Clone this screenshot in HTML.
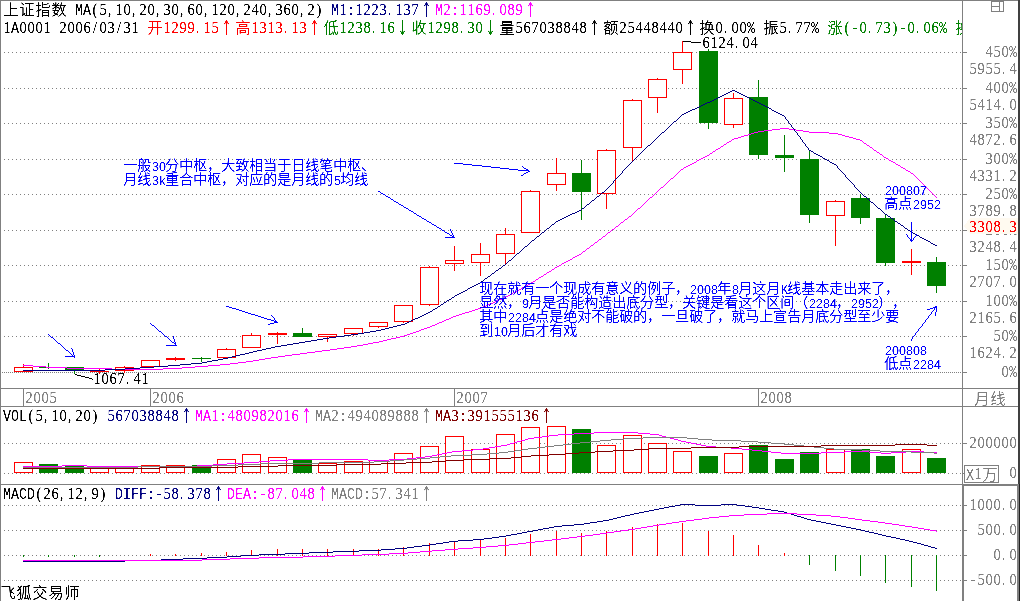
<!DOCTYPE html>
<html lang="zh-CN"><head><meta charset="utf-8"><title>上证指数 月线</title>
<style>
html,body{margin:0;padding:0;background:#fff;overflow:hidden}
svg{display:block}
text{font-family:"Liberation Mono","Noto Sans CJK SC",monospace;white-space:pre}
text.s{font-family:"Liberation Serif",serif}
text.n{font-family:"Liberation Sans",sans-serif}
text.h{font-family:"Liberation Mono",monospace}
text.c{font-family:"Liberation Sans","Noto Sans CJK SC",sans-serif;font-weight:300}
text.a{font-family:"Noto Sans CJK SC",sans-serif}
</style></head><body>
<svg width="1020" height="601" viewBox="0 0 1020 601" shape-rendering="crispEdges">
<rect width="1020" height="601" fill="#fff"/>
<defs><filter id="px" x="-10%" y="-20%" width="120%" height="140%" color-interpolation-filters="sRGB"><feComponentTransfer><feFuncA type="linear" slope="3" intercept="-0.85"/></feComponentTransfer></filter><filter id="pc" x="-10%" y="-20%" width="120%" height="140%" color-interpolation-filters="sRGB"><feComponentTransfer><feFuncA type="linear" slope="3" intercept="-0.4"/></feComponentTransfer></filter></defs>
<line x1="4" y1="52.5" x2="962" y2="52.5" stroke="#808080" stroke-width="1" stroke-dasharray="1 3"/>
<line x1="4" y1="88.5" x2="962" y2="88.5" stroke="#808080" stroke-width="1" stroke-dasharray="1 3"/>
<line x1="4" y1="123.5" x2="962" y2="123.5" stroke="#808080" stroke-width="1" stroke-dasharray="1 3"/>
<line x1="4" y1="159.5" x2="962" y2="159.5" stroke="#808080" stroke-width="1" stroke-dasharray="1 3"/>
<line x1="4" y1="194.5" x2="962" y2="194.5" stroke="#808080" stroke-width="1" stroke-dasharray="1 3"/>
<line x1="4" y1="230.5" x2="962" y2="230.5" stroke="#808080" stroke-width="1" stroke-dasharray="1 3"/>
<line x1="4" y1="265.5" x2="962" y2="265.5" stroke="#808080" stroke-width="1" stroke-dasharray="1 3"/>
<line x1="4" y1="301.5" x2="962" y2="301.5" stroke="#808080" stroke-width="1" stroke-dasharray="1 3"/>
<line x1="4" y1="336.5" x2="962" y2="336.5" stroke="#808080" stroke-width="1" stroke-dasharray="1 3"/>
<line x1="2" y1="372.5" x2="962" y2="372.5" stroke="#808080" stroke-width="1" stroke-dasharray="1 1"/>
<line x1="4" y1="443.5" x2="962" y2="443.5" stroke="#808080" stroke-width="1" stroke-dasharray="1 3"/>
<line x1="4" y1="473.5" x2="962" y2="473.5" stroke="#808080" stroke-width="1" stroke-dasharray="1 3"/>
<line x1="4" y1="505.5" x2="962" y2="505.5" stroke="#808080" stroke-width="1" stroke-dasharray="1 3"/>
<line x1="4" y1="530.5" x2="962" y2="530.5" stroke="#808080" stroke-width="1" stroke-dasharray="1 3"/>
<line x1="4" y1="555.5" x2="962" y2="555.5" stroke="#808080" stroke-width="1" stroke-dasharray="1 3"/>
<line x1="4" y1="580.5" x2="962" y2="580.5" stroke="#808080" stroke-width="1" stroke-dasharray="1 3"/>
<rect x="0" y="0" width="1020" height="1" fill="#808080"/>
<rect x="0" y="0" width="1" height="601" fill="#808080"/>
<rect x="962" y="0" width="1" height="601" fill="#808080"/>
<rect x="0" y="388" width="1020" height="1" fill="#808080"/>
<rect x="0" y="406" width="1020" height="1" fill="#808080"/>
<rect x="0" y="484" width="1020" height="1" fill="#808080"/>
<rect x="1018" y="0" width="2" height="484" fill="#404040"/>
<rect x="1019" y="484" width="1" height="117" fill="#202020"/>
<rect x="962" y="484" width="2" height="117" fill="#808080"/>
<rect x="962" y="484" width="57" height="2" fill="#808080"/>
<rect x="1017" y="484" width="2" height="117" fill="#808080"/>
<rect x="963" y="52" width="4" height="1" fill="#808080"/>
<rect x="963" y="88" width="4" height="1" fill="#808080"/>
<rect x="963" y="123" width="4" height="1" fill="#808080"/>
<rect x="963" y="159" width="4" height="1" fill="#808080"/>
<rect x="963" y="194" width="4" height="1" fill="#808080"/>
<rect x="963" y="230" width="4" height="1" fill="#808080"/>
<rect x="963" y="265" width="4" height="1" fill="#808080"/>
<rect x="963" y="301" width="4" height="1" fill="#808080"/>
<rect x="963" y="336" width="4" height="1" fill="#808080"/>
<rect x="963" y="372" width="4" height="1" fill="#808080"/>
<rect x="963" y="443" width="4" height="1" fill="#808080"/>
<rect x="963" y="473" width="4" height="1" fill="#808080"/>
<rect x="963" y="505" width="4" height="1" fill="#808080"/>
<rect x="963" y="530" width="4" height="1" fill="#808080"/>
<rect x="963" y="555" width="4" height="1" fill="#808080"/>
<rect x="963" y="580" width="4" height="1" fill="#808080"/>
<rect x="23" y="388" width="1" height="19" fill="#808080"/>
<rect x="150" y="388" width="1" height="19" fill="#808080"/>
<rect x="454" y="388" width="1" height="19" fill="#808080"/>
<rect x="758" y="388" width="1" height="19" fill="#808080"/>
<g id="candles">
<rect x="23" y="364" width="1" height="8" fill="#ff0000"/>
<rect x="14.5" y="367.5" width="18" height="4" fill="#fff" stroke="#ff0000" stroke-width="1"/>
<rect x="48" y="363" width="1" height="6" fill="#008000"/>
<rect x="39" y="367" width="19" height="1" fill="#008000"/>
<rect x="74" y="367" width="1" height="7" fill="#008000"/>
<rect x="65" y="367" width="19" height="4" fill="#008000"/>
<rect x="99" y="369" width="1" height="5" fill="#ff0000"/>
<rect x="90" y="371" width="19" height="1" fill="#ff0000"/>
<rect x="124" y="366" width="1" height="7" fill="#ff0000"/>
<rect x="115.5" y="367.5" width="18" height="3" fill="#fff" stroke="#ff0000" stroke-width="1"/>
<rect x="150" y="360" width="1" height="7" fill="#ff0000"/>
<rect x="141.5" y="360.5" width="18" height="6" fill="#fff" stroke="#ff0000" stroke-width="1"/>
<rect x="175" y="357" width="1" height="4" fill="#ff0000"/>
<rect x="166" y="358" width="19" height="2" fill="#ff0000"/>
<rect x="201" y="357" width="1" height="5" fill="#008000"/>
<rect x="192" y="358" width="19" height="1" fill="#008000"/>
<rect x="226" y="348" width="1" height="10" fill="#ff0000"/>
<rect x="217.5" y="349.5" width="18" height="8" fill="#fff" stroke="#ff0000" stroke-width="1"/>
<rect x="251" y="333" width="1" height="15" fill="#ff0000"/>
<rect x="242.5" y="335.5" width="18" height="12" fill="#fff" stroke="#ff0000" stroke-width="1"/>
<rect x="277" y="332" width="1" height="12" fill="#ff0000"/>
<rect x="268" y="333" width="19" height="2" fill="#ff0000"/>
<rect x="302" y="328" width="1" height="9" fill="#008000"/>
<rect x="293" y="333" width="19" height="4" fill="#008000"/>
<rect x="327" y="334" width="1" height="8" fill="#ff0000"/>
<rect x="318.5" y="334.5" width="18" height="2" fill="#fff" stroke="#ff0000" stroke-width="1"/>
<rect x="353" y="328" width="1" height="8" fill="#ff0000"/>
<rect x="344.5" y="328.5" width="18" height="5" fill="#fff" stroke="#ff0000" stroke-width="1"/>
<rect x="378" y="322" width="1" height="6" fill="#ff0000"/>
<rect x="369.5" y="322.5" width="18" height="4" fill="#fff" stroke="#ff0000" stroke-width="1"/>
<rect x="403" y="305" width="1" height="18" fill="#ff0000"/>
<rect x="394.5" y="305.5" width="18" height="16" fill="#fff" stroke="#ff0000" stroke-width="1"/>
<rect x="429" y="266" width="1" height="40" fill="#ff0000"/>
<rect x="420.5" y="267.5" width="18" height="37" fill="#fff" stroke="#ff0000" stroke-width="1"/>
<rect x="454" y="246" width="1" height="25" fill="#ff0000"/>
<rect x="445.5" y="260.5" width="18" height="3" fill="#fff" stroke="#ff0000" stroke-width="1"/>
<rect x="480" y="243" width="1" height="33" fill="#ff0000"/>
<rect x="471.5" y="254.5" width="18" height="8" fill="#fff" stroke="#ff0000" stroke-width="1"/>
<rect x="505" y="228" width="1" height="37" fill="#ff0000"/>
<rect x="496.5" y="234.5" width="18" height="19" fill="#fff" stroke="#ff0000" stroke-width="1"/>
<rect x="530" y="190" width="1" height="43" fill="#ff0000"/>
<rect x="521.5" y="191.5" width="18" height="41" fill="#fff" stroke="#ff0000" stroke-width="1"/>
<rect x="556" y="158" width="1" height="33" fill="#ff0000"/>
<rect x="547.5" y="173.5" width="18" height="11" fill="#fff" stroke="#ff0000" stroke-width="1"/>
<rect x="581" y="160" width="1" height="60" fill="#008000"/>
<rect x="572" y="173" width="19" height="19" fill="#008000"/>
<rect x="606" y="149" width="1" height="60" fill="#ff0000"/>
<rect x="597.5" y="150.5" width="18" height="43" fill="#fff" stroke="#ff0000" stroke-width="1"/>
<rect x="632" y="99" width="1" height="62" fill="#ff0000"/>
<rect x="623.5" y="100.5" width="18" height="47" fill="#fff" stroke="#ff0000" stroke-width="1"/>
<rect x="657" y="78" width="1" height="35" fill="#ff0000"/>
<rect x="648.5" y="79.5" width="18" height="18" fill="#fff" stroke="#ff0000" stroke-width="1"/>
<rect x="682" y="41" width="1" height="43" fill="#ff0000"/>
<rect x="673.5" y="52.5" width="18" height="17" fill="#fff" stroke="#ff0000" stroke-width="1"/>
<rect x="708" y="49" width="1" height="80" fill="#008000"/>
<rect x="699" y="51" width="19" height="72" fill="#008000"/>
<rect x="733" y="93" width="1" height="35" fill="#ff0000"/>
<rect x="724.5" y="98.5" width="18" height="26" fill="#fff" stroke="#ff0000" stroke-width="1"/>
<rect x="758" y="80" width="1" height="79" fill="#008000"/>
<rect x="749" y="97" width="19" height="58" fill="#008000"/>
<rect x="784" y="135" width="1" height="37" fill="#008000"/>
<rect x="775" y="155" width="19" height="3" fill="#008000"/>
<rect x="809" y="150" width="1" height="73" fill="#008000"/>
<rect x="800" y="159" width="19" height="56" fill="#008000"/>
<rect x="835" y="200" width="1" height="46" fill="#ff0000"/>
<rect x="826.5" y="201.5" width="18" height="14" fill="#fff" stroke="#ff0000" stroke-width="1"/>
<rect x="860" y="194" width="1" height="30" fill="#008000"/>
<rect x="851" y="198" width="19" height="20" fill="#008000"/>
<rect x="885" y="214" width="1" height="52" fill="#008000"/>
<rect x="876" y="218" width="19" height="45" fill="#008000"/>
<rect x="911" y="249" width="1" height="26" fill="#ff0000"/>
<rect x="902" y="261" width="19" height="2" fill="#ff0000"/>
<rect x="936" y="257" width="1" height="36" fill="#008000"/>
<rect x="927" y="262" width="19" height="24" fill="#008000"/>
</g>
<g id="ma">
<path d="M780 128h9v1h-9zM772 129h8v1h-8zM789 129h7v1h-7zM764 130h8v1h-8zM796 130h7v1h-7zM758 131h6v1h-6zM803 131h6v1h-6zM754 132h4v1h-4zM809 132h20v1h-20zM751 133h3v1h-3zM829 133h9v1h-9zM748 134h3v1h-3zM838 134h4v1h-4zM744 135h4v1h-4zM842 135h3v1h-3zM741 136h3v1h-3zM845 136h4v1h-4zM738 137h3v1h-3zM849 137h4v1h-4zM734 138h4v1h-4zM853 138h3v1h-3zM732 139h2v1h-2zM856 139h4v1h-4zM731 140h1v1h-1zM860 140h2v1h-2zM729 141h2v1h-2zM862 141h1v1h-1zM727 142h2v1h-2zM863 142h1v1h-1zM726 143h1v1h-1zM864 143h2v1h-2zM724 144h2v1h-2zM866 144h1v1h-1zM723 145h1v1h-1zM867 145h2v1h-2zM721 146h2v1h-2zM869 146h1v1h-1zM720 147h1v1h-1zM870 147h2v1h-2zM718 148h2v1h-2zM872 148h1v1h-1zM716 149h2v1h-2zM873 149h1v1h-1zM715 150h1v1h-1zM874 150h2v1h-2zM713 151h2v1h-2zM876 151h1v1h-1zM712 152h1v1h-1zM877 152h2v1h-2zM710 153h2v1h-2zM879 153h1v1h-1zM709 154h1v1h-1zM880 154h2v1h-2zM707 155h2v1h-2zM882 155h1v1h-1zM705 156h2v1h-2zM883 156h1v1h-1zM703 157h2v1h-2zM884 157h2v1h-2zM701 158h2v1h-2zM886 158h2v1h-2zM699 159h2v1h-2zM888 159h1v1h-1zM697 160h2v1h-2zM889 160h2v1h-2zM696 161h1v1h-1zM891 161h2v1h-2zM694 162h2v1h-2zM893 162h2v1h-2zM692 163h2v1h-2zM895 163h1v1h-1zM690 164h2v1h-2zM896 164h2v1h-2zM688 165h2v1h-2zM898 165h2v1h-2zM686 166h2v1h-2zM900 166h1v1h-1zM684 167h2v1h-2zM901 167h2v1h-2zM683 168h1v1h-1zM903 168h2v1h-2zM681 169h2v1h-2zM905 169h1v1h-1zM680 170h1v1h-1zM906 170h2v1h-2zM679 171h1v1h-1zM908 171h2v1h-2zM678 172h1v1h-1zM910 172h1v1h-1zM677 173h1v1h-1zM911 173h2v1h-2zM676 174h1v1h-1zM913 174h1v1h-1zM675 175h1v1h-1zM914 175h1v1h-1zM674 176h1v1h-1zM915 176h1v1h-1zM673 177h1v1h-1zM916 177h1v1h-1zM671 178h2v1h-2zM917 178h1v1h-1zM670 179h1v1h-1zM918 179h1v1h-1zM669 180h1v1h-1zM919 180h1v1h-1zM668 181h1v1h-1zM920 181h1v1h-1zM667 182h1v1h-1zM921 182h1v1h-1zM666 183h1v1h-1zM922 183h1v1h-1zM665 184h1v1h-1zM923 184h1v1h-1zM664 185h1v1h-1zM924 185h1v1h-1zM663 186h1v1h-1zM925 186h1v1h-1zM661 187h2v1h-2zM926 187h1v1h-1zM660 188h1v1h-1zM927 188h1v1h-1zM659 189h1v1h-1zM928 189h1v1h-1zM658 190h1v1h-1zM929 190h1v1h-1zM657 191h1v1h-1zM930 191h1v1h-1zM656 192h1v1h-1zM931 192h1v1h-1zM655 193h1v1h-1zM932 193h1v1h-1zM654 194h1v1h-1zM933 194h1v1h-1zM653 195h1v1h-1zM934 195h1v1h-1zM652 196h1v1h-1zM935 196h1v1h-1zM650 197h2v1h-2zM936 197h1v1h-1zM649 198h1v1h-1zM648 199h1v1h-1zM647 200h1v1h-1zM646 201h1v1h-1zM645 202h1v1h-1zM644 203h1v1h-1zM643 204h1v1h-1zM642 205h1v1h-1zM641 206h1v1h-1zM640 207h1v1h-1zM638 208h2v1h-2zM637 209h1v1h-1zM636 210h1v1h-1zM635 211h1v1h-1zM634 212h1v1h-1zM633 213h1v1h-1zM632 214h1v1h-1zM631 215h1v1h-1zM629 216h2v1h-2zM628 217h1v1h-1zM627 218h1v1h-1zM625 219h2v1h-2zM624 220h1v1h-1zM623 221h1v1h-1zM621 222h2v1h-2zM620 223h1v1h-1zM619 224h1v1h-1zM618 225h1v1h-1zM616 226h2v1h-2zM615 227h1v1h-1zM614 228h1v1h-1zM612 229h2v1h-2zM611 230h1v1h-1zM610 231h1v1h-1zM608 232h2v1h-2zM607 233h1v1h-1zM606 234h1v1h-1zM605 235h1v1h-1zM603 236h2v1h-2zM602 237h1v1h-1zM601 238h1v1h-1zM599 239h2v1h-2zM598 240h1v1h-1zM597 241h1v1h-1zM595 242h2v1h-2zM594 243h1v1h-1zM593 244h1v1h-1zM591 245h2v1h-2zM590 246h1v1h-1zM589 247h1v1h-1zM587 248h2v1h-2zM586 249h1v1h-1zM585 250h1v1h-1zM583 251h2v1h-2zM582 252h1v1h-1zM581 253h1v1h-1zM579 254h2v1h-2zM577 255h2v1h-2zM575 256h2v1h-2zM573 257h2v1h-2zM572 258h1v1h-1zM570 259h2v1h-2zM568 260h2v1h-2zM566 261h2v1h-2zM564 262h2v1h-2zM562 263h2v1h-2zM561 264h1v1h-1zM559 265h2v1h-2zM557 266h2v1h-2zM555 267h2v1h-2zM554 268h1v1h-1zM552 269h2v1h-2zM551 270h1v1h-1zM549 271h2v1h-2zM547 272h2v1h-2zM546 273h1v1h-1zM544 274h2v1h-2zM543 275h1v1h-1zM541 276h2v1h-2zM539 277h2v1h-2zM538 278h1v1h-1zM536 279h2v1h-2zM535 280h1v1h-1zM533 281h2v1h-2zM531 282h2v1h-2zM530 283h1v1h-1zM528 284h2v1h-2zM526 285h2v1h-2zM524 286h2v1h-2zM522 287h2v1h-2zM521 288h1v1h-1zM519 289h2v1h-2zM517 290h2v1h-2zM515 291h2v1h-2zM513 292h2v1h-2zM512 293h1v1h-1zM510 294h2v1h-2zM508 295h2v1h-2zM506 296h2v1h-2zM504 297h2v1h-2zM502 298h2v1h-2zM499 299h3v1h-3zM497 300h2v1h-2zM495 301h2v1h-2zM493 302h2v1h-2zM490 303h3v1h-3zM488 304h2v1h-2zM486 305h2v1h-2zM483 306h3v1h-3zM481 307h2v1h-2zM478 308h3v1h-3zM475 309h3v1h-3zM472 310h3v1h-3zM469 311h3v1h-3zM465 312h4v1h-4zM462 313h3v1h-3zM459 314h3v1h-3zM456 315h3v1h-3zM453 316h3v1h-3zM451 317h2v1h-2zM449 318h2v1h-2zM446 319h3v1h-3zM444 320h2v1h-2zM442 321h2v1h-2zM439 322h3v1h-3zM437 323h2v1h-2zM435 324h2v1h-2zM432 325h3v1h-3zM430 326h2v1h-2zM427 327h3v1h-3zM424 328h3v1h-3zM421 329h3v1h-3zM419 330h2v1h-2zM416 331h3v1h-3zM413 332h3v1h-3zM410 333h3v1h-3zM407 334h3v1h-3zM404 335h3v1h-3zM400 336h4v1h-4zM396 337h4v1h-4zM391 338h5v1h-5zM387 339h4v1h-4zM383 340h4v1h-4zM379 341h4v1h-4zM373 342h6v1h-6zM368 343h5v1h-5zM363 344h5v1h-5zM357 345h6v1h-6zM351 346h6v1h-6zM344 347h7v1h-7zM337 348h7v1h-7zM330 349h7v1h-7zM322 350h8v1h-8zM315 351h7v1h-7zM307 352h8v1h-8zM300 353h7v1h-7zM292 354h8v1h-8zM285 355h7v1h-7zM278 356h7v1h-7zM271 357h7v1h-7zM265 358h6v1h-6zM259 359h6v1h-6zM253 360h6v1h-6zM246 361h7v1h-7zM238 362h8v1h-8zM230 363h8v1h-8zM220 364h10v1h-10zM23 365h10v1h-10zM208 365h12v1h-12zM33 366h13v1h-13zM195 366h13v1h-13zM46 367h21v1h-21zM182 367h13v1h-13zM67 368h45v1h-45zM163 368h19v1h-19zM112 369h51v1h-51z" fill="#ff00ff"/>
<path d="M732 90h3v1h-3zM730 91h2v1h-2zM735 91h2v1h-2zM728 92h2v1h-2zM737 92h2v1h-2zM726 93h2v1h-2zM739 93h2v1h-2zM724 94h2v1h-2zM741 94h2v1h-2zM722 95h2v1h-2zM743 95h2v1h-2zM720 96h2v1h-2zM745 96h2v1h-2zM718 97h2v1h-2zM747 97h2v1h-2zM716 98h2v1h-2zM749 98h2v1h-2zM714 99h2v1h-2zM751 99h2v1h-2zM712 100h2v1h-2zM753 100h2v1h-2zM710 101h2v1h-2zM755 101h2v1h-2zM707 102h3v1h-3zM757 102h2v1h-2zM705 103h2v1h-2zM759 103h2v1h-2zM703 104h2v1h-2zM761 104h2v1h-2zM701 105h2v1h-2zM763 105h2v1h-2zM699 106h2v1h-2zM765 106h2v1h-2zM697 107h2v1h-2zM767 107h2v1h-2zM695 108h2v1h-2zM769 108h2v1h-2zM692 109h3v1h-3zM771 109h1v1h-1zM690 110h2v1h-2zM772 110h2v1h-2zM688 111h2v1h-2zM774 111h2v1h-2zM686 112h2v1h-2zM776 112h2v1h-2zM684 113h2v1h-2zM778 113h2v1h-2zM682 114h2v1h-2zM780 114h2v1h-2zM681 115h1v1h-1zM782 115h2v1h-2zM680 116h1v1h-1zM784 116h1v1h-1zM679 117h1v1h-1zM785 117h1v1h-1zM678 118h1v1h-1zM785 118h1v1h-1zM677 119h1v1h-1zM786 119h1v1h-1zM676 120h1v1h-1zM787 120h1v1h-1zM674 121h2v1h-2zM788 121h1v1h-1zM673 122h1v1h-1zM788 122h1v1h-1zM672 123h1v1h-1zM789 123h1v1h-1zM671 124h1v1h-1zM790 124h1v1h-1zM670 125h1v1h-1zM791 125h1v1h-1zM669 126h1v1h-1zM791 126h1v1h-1zM668 127h1v1h-1zM792 127h1v1h-1zM667 128h1v1h-1zM793 128h1v1h-1zM666 129h1v1h-1zM794 129h1v1h-1zM665 130h1v1h-1zM794 130h1v1h-1zM664 131h1v1h-1zM795 131h1v1h-1zM662 132h2v1h-2zM796 132h1v1h-1zM661 133h1v1h-1zM797 133h1v1h-1zM660 134h1v1h-1zM797 134h1v1h-1zM659 135h1v1h-1zM798 135h1v1h-1zM658 136h1v1h-1zM799 136h1v1h-1zM657 137h1v1h-1zM800 137h1v1h-1zM656 138h1v1h-1zM800 138h1v1h-1zM655 139h1v1h-1zM801 139h1v1h-1zM654 140h1v1h-1zM802 140h1v1h-1zM653 141h1v1h-1zM802 141h1v1h-1zM652 142h1v1h-1zM803 142h1v1h-1zM651 143h1v1h-1zM804 143h1v1h-1zM650 144h1v1h-1zM805 144h1v1h-1zM648 145h2v1h-2zM805 145h1v1h-1zM647 146h1v1h-1zM806 146h1v1h-1zM646 147h1v1h-1zM807 147h1v1h-1zM645 148h1v1h-1zM808 148h1v1h-1zM644 149h1v1h-1zM808 149h1v1h-1zM643 150h1v1h-1zM809 150h2v1h-2zM642 151h1v1h-1zM811 151h2v1h-2zM641 152h1v1h-1zM813 152h1v1h-1zM640 153h1v1h-1zM814 153h2v1h-2zM639 154h1v1h-1zM816 154h2v1h-2zM638 155h1v1h-1zM818 155h2v1h-2zM637 156h1v1h-1zM820 156h2v1h-2zM636 157h1v1h-1zM822 157h1v1h-1zM635 158h1v1h-1zM823 158h2v1h-2zM634 159h1v1h-1zM825 159h2v1h-2zM633 160h1v1h-1zM827 160h2v1h-2zM632 161h1v1h-1zM829 161h1v1h-1zM631 162h1v1h-1zM830 162h2v1h-2zM630 163h1v1h-1zM832 163h2v1h-2zM629 164h1v1h-1zM834 164h2v1h-2zM628 165h1v1h-1zM836 165h1v1h-1zM627 166h1v1h-1zM837 166h1v1h-1zM626 167h1v1h-1zM837 167h1v1h-1zM625 168h1v1h-1zM838 168h1v1h-1zM624 169h1v1h-1zM839 169h1v1h-1zM623 170h1v1h-1zM840 170h1v1h-1zM622 171h1v1h-1zM841 171h1v1h-1zM622 172h1v1h-1zM842 172h1v1h-1zM621 173h1v1h-1zM843 173h1v1h-1zM620 174h1v1h-1zM844 174h1v1h-1zM619 175h1v1h-1zM845 175h1v1h-1zM618 176h1v1h-1zM845 176h1v1h-1zM617 177h1v1h-1zM846 177h1v1h-1zM616 178h1v1h-1zM847 178h1v1h-1zM615 179h1v1h-1zM848 179h1v1h-1zM614 180h1v1h-1zM849 180h1v1h-1zM613 181h1v1h-1zM850 181h1v1h-1zM613 182h1v1h-1zM851 182h1v1h-1zM612 183h1v1h-1zM852 183h1v1h-1zM611 184h1v1h-1zM853 184h1v1h-1zM610 185h1v1h-1zM854 185h1v1h-1zM609 186h1v1h-1zM854 186h1v1h-1zM608 187h1v1h-1zM855 187h1v1h-1zM607 188h1v1h-1zM856 188h1v1h-1zM606 189h1v1h-1zM857 189h1v1h-1zM605 190h1v1h-1zM858 190h1v1h-1zM604 191h1v1h-1zM859 191h1v1h-1zM602 192h2v1h-2zM860 192h1v1h-1zM601 193h1v1h-1zM861 193h1v1h-1zM600 194h1v1h-1zM862 194h1v1h-1zM599 195h1v1h-1zM863 195h1v1h-1zM597 196h2v1h-2zM864 196h2v1h-2zM596 197h1v1h-1zM866 197h1v1h-1zM595 198h1v1h-1zM867 198h1v1h-1zM594 199h1v1h-1zM868 199h1v1h-1zM592 200h2v1h-2zM869 200h1v1h-1zM591 201h1v1h-1zM870 201h1v1h-1zM590 202h1v1h-1zM871 202h2v1h-2zM589 203h1v1h-1zM873 203h1v1h-1zM587 204h2v1h-2zM874 204h1v1h-1zM586 205h1v1h-1zM875 205h1v1h-1zM585 206h1v1h-1zM876 206h1v1h-1zM584 207h1v1h-1zM877 207h1v1h-1zM582 208h2v1h-2zM878 208h2v1h-2zM581 209h1v1h-1zM880 209h1v1h-1zM579 210h2v1h-2zM881 210h1v1h-1zM577 211h2v1h-2zM882 211h1v1h-1zM575 212h2v1h-2zM883 212h1v1h-1zM572 213h3v1h-3zM884 213h1v1h-1zM570 214h2v1h-2zM885 214h2v1h-2zM568 215h2v1h-2zM887 215h1v1h-1zM566 216h2v1h-2zM888 216h2v1h-2zM564 217h2v1h-2zM890 217h1v1h-1zM562 218h2v1h-2zM891 218h2v1h-2zM560 219h2v1h-2zM893 219h1v1h-1zM558 220h2v1h-2zM894 220h1v1h-1zM556 221h2v1h-2zM895 221h2v1h-2zM555 222h1v1h-1zM897 222h1v1h-1zM554 223h1v1h-1zM898 223h2v1h-2zM552 224h2v1h-2zM900 224h1v1h-1zM551 225h1v1h-1zM901 225h2v1h-2zM550 226h1v1h-1zM903 226h1v1h-1zM549 227h1v1h-1zM904 227h1v1h-1zM547 228h2v1h-2zM905 228h2v1h-2zM546 229h1v1h-1zM907 229h1v1h-1zM545 230h1v1h-1zM908 230h2v1h-2zM544 231h1v1h-1zM910 231h1v1h-1zM542 232h2v1h-2zM911 232h2v1h-2zM541 233h1v1h-1zM913 233h2v1h-2zM540 234h1v1h-1zM915 234h2v1h-2zM539 235h1v1h-1zM917 235h2v1h-2zM537 236h2v1h-2zM919 236h1v1h-1zM536 237h1v1h-1zM920 237h2v1h-2zM535 238h1v1h-1zM922 238h2v1h-2zM534 239h1v1h-1zM924 239h2v1h-2zM532 240h2v1h-2zM926 240h2v1h-2zM531 241h1v1h-1zM928 241h2v1h-2zM530 242h1v1h-1zM930 242h1v1h-1zM529 243h1v1h-1zM931 243h2v1h-2zM528 244h1v1h-1zM933 244h2v1h-2zM527 245h1v1h-1zM935 245h2v1h-2zM525 246h2v1h-2zM524 247h1v1h-1zM523 248h1v1h-1zM522 249h1v1h-1zM521 250h1v1h-1zM520 251h1v1h-1zM519 252h1v1h-1zM517 253h2v1h-2zM516 254h1v1h-1zM515 255h1v1h-1zM514 256h1v1h-1zM513 257h1v1h-1zM512 258h1v1h-1zM511 259h1v1h-1zM509 260h2v1h-2zM508 261h1v1h-1zM507 262h1v1h-1zM506 263h1v1h-1zM505 264h1v1h-1zM503 265h2v1h-2zM502 266h1v1h-1zM501 267h1v1h-1zM499 268h2v1h-2zM498 269h1v1h-1zM496 270h2v1h-2zM495 271h1v1h-1zM494 272h1v1h-1zM492 273h2v1h-2zM491 274h1v1h-1zM490 275h1v1h-1zM488 276h2v1h-2zM487 277h1v1h-1zM485 278h2v1h-2zM484 279h1v1h-1zM483 280h1v1h-1zM481 281h2v1h-2zM480 282h1v1h-1zM478 283h2v1h-2zM476 284h2v1h-2zM474 285h2v1h-2zM472 286h2v1h-2zM470 287h2v1h-2zM468 288h2v1h-2zM467 289h1v1h-1zM465 290h2v1h-2zM463 291h2v1h-2zM461 292h2v1h-2zM459 293h2v1h-2zM457 294h2v1h-2zM455 295h2v1h-2zM454 296h1v1h-1zM452 297h2v1h-2zM451 298h1v1h-1zM449 299h2v1h-2zM447 300h2v1h-2zM446 301h1v1h-1zM444 302h2v1h-2zM443 303h1v1h-1zM441 304h2v1h-2zM440 305h1v1h-1zM438 306h2v1h-2zM437 307h1v1h-1zM435 308h2v1h-2zM433 309h2v1h-2zM432 310h1v1h-1zM430 311h2v1h-2zM428 312h2v1h-2zM426 313h2v1h-2zM424 314h2v1h-2zM422 315h2v1h-2zM420 316h2v1h-2zM418 317h2v1h-2zM415 318h3v1h-3zM413 319h2v1h-2zM411 320h2v1h-2zM409 321h2v1h-2zM407 322h2v1h-2zM405 323h2v1h-2zM401 324h4v1h-4zM397 325h4v1h-4zM393 326h4v1h-4zM389 327h4v1h-4zM385 328h4v1h-4zM381 329h4v1h-4zM376 330h5v1h-5zM370 331h6v1h-6zM364 332h6v1h-6zM358 333h6v1h-6zM351 334h7v1h-7zM344 335h7v1h-7zM336 336h8v1h-8zM329 337h7v1h-7zM323 338h6v1h-6zM317 339h6v1h-6zM311 340h6v1h-6zM305 341h6v1h-6zM299 342h6v1h-6zM293 343h6v1h-6zM287 344h6v1h-6zM281 345h6v1h-6zM275 346h6v1h-6zM271 347h4v1h-4zM266 348h5v1h-5zM262 349h4v1h-4zM257 350h5v1h-5zM253 351h4v1h-4zM249 352h4v1h-4zM245 353h4v1h-4zM240 354h5v1h-5zM236 355h4v1h-4zM232 356h4v1h-4zM228 357h4v1h-4zM223 358h5v1h-5zM218 359h5v1h-5zM212 360h6v1h-6zM207 361h5v1h-5zM202 362h5v1h-5zM191 363h11v1h-11zM180 364h11v1h-11zM168 365h12v1h-12zM154 366h14v1h-14zM140 367h14v1h-14zM125 368h15v1h-15zM105 369h20v1h-20zM23 370h82v1h-82z" fill="#000080"/>
</g>
<path d="M683 41h8v1h-8zM691 42h10v1h-10z" fill="#000000"/>
<g class="t"><text transform="scale(0.9,1)" x="784.44 793.33 802.22 811.11 818.33 828.89 837.78" y="48" fill="#000000" font-size="16" text-anchor="middle" class="s" filter="url(#px)">6124.04</text></g>
<path d="M75 374h2v1h-2zM77 375h4v1h-4zM81 376h4v1h-4zM85 377h4v1h-4zM89 378h3v1h-3zM92 379h1v1h-1z" fill="#000000"/>
<g class="t"><text transform="scale(0.9,1)" x="107.78 116.67 125.56 134.44 141.67 152.22 161.11" y="384" fill="#000000" font-size="16" text-anchor="middle" class="s" filter="url(#px)">1067.41</text></g>
<g id="vol">
<rect x="14.5" y="462.5" width="18" height="10" fill="#fff" stroke="#ff0000" stroke-width="1"/>
<rect x="39" y="464" width="19" height="9" fill="#008000"/>
<rect x="65" y="466" width="19" height="7" fill="#008000"/>
<rect x="90.5" y="466.5" width="18" height="6" fill="#fff" stroke="#ff0000" stroke-width="1"/>
<rect x="115.5" y="466.5" width="18" height="6" fill="#fff" stroke="#ff0000" stroke-width="1"/>
<rect x="141.5" y="465.5" width="18" height="7" fill="#fff" stroke="#ff0000" stroke-width="1"/>
<rect x="166.5" y="465.5" width="18" height="7" fill="#fff" stroke="#ff0000" stroke-width="1"/>
<rect x="192" y="465" width="19" height="8" fill="#008000"/>
<rect x="217.5" y="459.5" width="18" height="13" fill="#fff" stroke="#ff0000" stroke-width="1"/>
<rect x="242.5" y="454.5" width="18" height="18" fill="#fff" stroke="#ff0000" stroke-width="1"/>
<rect x="268.5" y="457.5" width="18" height="15" fill="#fff" stroke="#ff0000" stroke-width="1"/>
<rect x="293" y="459" width="19" height="14" fill="#008000"/>
<rect x="318.5" y="463.5" width="18" height="9" fill="#fff" stroke="#ff0000" stroke-width="1"/>
<rect x="344.5" y="461.5" width="18" height="11" fill="#fff" stroke="#ff0000" stroke-width="1"/>
<rect x="369.5" y="460.5" width="18" height="12" fill="#fff" stroke="#ff0000" stroke-width="1"/>
<rect x="394.5" y="453.5" width="18" height="19" fill="#fff" stroke="#ff0000" stroke-width="1"/>
<rect x="420.5" y="446.5" width="18" height="26" fill="#fff" stroke="#ff0000" stroke-width="1"/>
<rect x="445.5" y="436.5" width="18" height="36" fill="#fff" stroke="#ff0000" stroke-width="1"/>
<rect x="471.5" y="449.5" width="18" height="23" fill="#fff" stroke="#ff0000" stroke-width="1"/>
<rect x="496.5" y="434.5" width="18" height="38" fill="#fff" stroke="#ff0000" stroke-width="1"/>
<rect x="521.5" y="427.5" width="18" height="45" fill="#fff" stroke="#ff0000" stroke-width="1"/>
<rect x="547.5" y="426.5" width="18" height="46" fill="#fff" stroke="#ff0000" stroke-width="1"/>
<rect x="572" y="429" width="19" height="44" fill="#008000"/>
<rect x="597.5" y="445.5" width="18" height="27" fill="#fff" stroke="#ff0000" stroke-width="1"/>
<rect x="623.5" y="435.5" width="18" height="37" fill="#fff" stroke="#ff0000" stroke-width="1"/>
<rect x="648.5" y="443.5" width="18" height="29" fill="#fff" stroke="#ff0000" stroke-width="1"/>
<rect x="673.5" y="451.5" width="18" height="21" fill="#fff" stroke="#ff0000" stroke-width="1"/>
<rect x="699" y="456" width="19" height="17" fill="#008000"/>
<rect x="724.5" y="453.5" width="18" height="19" fill="#fff" stroke="#ff0000" stroke-width="1"/>
<rect x="749" y="445" width="19" height="28" fill="#008000"/>
<rect x="775" y="459" width="19" height="14" fill="#008000"/>
<rect x="800" y="452" width="19" height="21" fill="#008000"/>
<rect x="826.5" y="449.5" width="18" height="23" fill="#fff" stroke="#ff0000" stroke-width="1"/>
<rect x="851" y="449" width="19" height="24" fill="#008000"/>
<rect x="876" y="456" width="19" height="17" fill="#008000"/>
<rect x="902.5" y="449.5" width="18" height="23" fill="#fff" stroke="#ff0000" stroke-width="1"/>
<rect x="927" y="458" width="19" height="15" fill="#008000"/>
<path d="M594 432h44v1h-44zM574 433h20v1h-20zM638 433h12v1h-12zM558 434h16v1h-16zM650 434h9v1h-9zM549 435h9v1h-9zM659 435h3v1h-3zM542 436h7v1h-7zM662 436h4v1h-4zM534 437h8v1h-8zM666 437h4v1h-4zM528 438h6v1h-6zM670 438h4v1h-4zM525 439h3v1h-3zM674 439h4v1h-4zM521 440h4v1h-4zM678 440h3v1h-3zM517 441h4v1h-4zM681 441h5v1h-5zM514 442h3v1h-3zM686 442h5v1h-5zM510 443h4v1h-4zM691 443h5v1h-5zM507 444h3v1h-3zM696 444h5v1h-5zM501 445h6v1h-6zM701 445h5v1h-5zM495 446h6v1h-6zM706 446h10v1h-10zM489 447h6v1h-6zM716 447h15v1h-15zM483 448h6v1h-6zM731 448h11v1h-11zM473 449h10v1h-10zM742 449h10v1h-10zM462 450h11v1h-11zM752 450h10v1h-10zM452 451h10v1h-10zM762 451h9v1h-9zM845 451h24v1h-24zM906 451h18v1h-18zM447 452h5v1h-5zM771 452h10v1h-10zM821 452h24v1h-24zM869 452h12v1h-12zM891 452h15v1h-15zM924 452h13v1h-13zM442 453h5v1h-5zM781 453h40v1h-40zM881 453h10v1h-10zM437 454h5v1h-5zM432 455h5v1h-5zM425 456h7v1h-7zM416 457h9v1h-9zM407 458h9v1h-9zM288 459h80v1h-80zM389 459h18v1h-18zM270 460h18v1h-18zM368 460h21v1h-21zM259 461h11v1h-11zM244 462h15v1h-15zM227 463h17v1h-17zM213 464h14v1h-14zM62 465h25v1h-25zM197 465h16v1h-16zM23 466h39v1h-39zM87 466h110v1h-110z" fill="#ff00ff"/>
<path d="M643 437h44v1h-44zM624 438h19v1h-19zM687 438h11v1h-11zM611 439h13v1h-13zM698 439h14v1h-14zM600 440h11v1h-11zM712 440h29v1h-29zM590 441h10v1h-10zM741 441h17v1h-17zM580 442h10v1h-10zM758 442h13v1h-13zM571 443h9v1h-9zM771 443h13v1h-13zM563 444h8v1h-8zM784 444h10v1h-10zM554 445h9v1h-9zM794 445h10v1h-10zM545 446h9v1h-9zM804 446h10v1h-10zM537 447h8v1h-8zM814 447h10v1h-10zM528 448h9v1h-9zM824 448h10v1h-10zM522 449h6v1h-6zM834 449h28v1h-28zM515 450h7v1h-7zM862 450h18v1h-18zM508 451h7v1h-7zM880 451h31v1h-31zM499 452h9v1h-9zM911 452h23v1h-23zM487 453h12v1h-12zM934 453h3v1h-3zM471 454h16v1h-16zM451 455h20v1h-20zM440 456h11v1h-11zM430 457h10v1h-10zM417 458h13v1h-13zM404 459h13v1h-13zM390 460h14v1h-14zM374 461h16v1h-16zM319 462h55v1h-55zM260 463h59v1h-59zM238 464h22v1h-22zM212 465h26v1h-26zM138 466h74v1h-74zM23 467h115v1h-115z" fill="#808080"/>
<path d="M895 444h32v1h-32zM821 445h74v1h-74zM927 445h10v1h-10zM739 446h82v1h-82zM691 447h48v1h-48zM649 448h42v1h-42zM634 449h15v1h-15zM613 450h21v1h-21zM595 451h18v1h-18zM579 452h16v1h-16zM565 453h14v1h-14zM549 454h16v1h-16zM531 455h18v1h-18zM521 456h10v1h-10zM511 457h10v1h-10zM490 458h21v1h-21zM464 459h26v1h-26zM446 460h18v1h-18zM432 461h14v1h-14zM406 462h26v1h-26zM381 463h25v1h-25zM337 464h44v1h-44zM278 465h59v1h-59zM238 466h40v1h-40zM160 467h78v1h-78zM23 468h137v1h-137z" fill="#800000"/>
</g>
<g id="macd">
<rect x="23" y="555" width="1" height="2" fill="#008000"/>
<rect x="48" y="555" width="1" height="2" fill="#008000"/>
<rect x="74" y="555" width="1" height="2" fill="#008000"/>
<rect x="99" y="555" width="1" height="2" fill="#008000"/>
<rect x="150" y="554" width="1" height="2" fill="#ff0000"/>
<rect x="175" y="554" width="1" height="2" fill="#ff0000"/>
<rect x="201" y="553" width="1" height="3" fill="#ff0000"/>
<rect x="226" y="552" width="1" height="4" fill="#ff0000"/>
<rect x="251" y="550" width="1" height="6" fill="#ff0000"/>
<rect x="277" y="549" width="1" height="7" fill="#ff0000"/>
<rect x="302" y="549" width="1" height="7" fill="#ff0000"/>
<rect x="327" y="549" width="1" height="7" fill="#ff0000"/>
<rect x="353" y="549" width="1" height="7" fill="#ff0000"/>
<rect x="378" y="549" width="1" height="7" fill="#ff0000"/>
<rect x="403" y="547" width="1" height="9" fill="#ff0000"/>
<rect x="429" y="543" width="1" height="13" fill="#ff0000"/>
<rect x="454" y="541" width="1" height="15" fill="#ff0000"/>
<rect x="480" y="540" width="1" height="16" fill="#ff0000"/>
<rect x="505" y="538" width="1" height="18" fill="#ff0000"/>
<rect x="530" y="534" width="1" height="22" fill="#ff0000"/>
<rect x="556" y="531" width="1" height="25" fill="#ff0000"/>
<rect x="581" y="533" width="1" height="23" fill="#ff0000"/>
<rect x="606" y="531" width="1" height="25" fill="#ff0000"/>
<rect x="632" y="527" width="1" height="29" fill="#ff0000"/>
<rect x="657" y="524" width="1" height="32" fill="#ff0000"/>
<rect x="682" y="523" width="1" height="33" fill="#ff0000"/>
<rect x="708" y="531" width="1" height="25" fill="#ff0000"/>
<rect x="733" y="535" width="1" height="21" fill="#ff0000"/>
<rect x="758" y="545" width="1" height="11" fill="#ff0000"/>
<rect x="784" y="553" width="1" height="3" fill="#ff0000"/>
<rect x="809" y="555" width="1" height="10" fill="#008000"/>
<rect x="835" y="555" width="1" height="16" fill="#008000"/>
<rect x="860" y="555" width="1" height="21" fill="#008000"/>
<rect x="885" y="555" width="1" height="28" fill="#008000"/>
<rect x="911" y="555" width="1" height="32" fill="#008000"/>
<rect x="936" y="555" width="1" height="36" fill="#008000"/>
<path d="M680 504h15v1h-15zM721 504h16v1h-16zM675 505h5v1h-5zM695 505h26v1h-26zM737 505h8v1h-8zM669 506h6v1h-6zM745 506h7v1h-7zM664 507h5v1h-5zM752 507h7v1h-7zM659 508h5v1h-5zM759 508h6v1h-6zM654 509h5v1h-5zM765 509h6v1h-6zM649 510h5v1h-5zM771 510h7v1h-7zM644 511h5v1h-5zM778 511h6v1h-6zM639 512h5v1h-5zM784 512h3v1h-3zM634 513h5v1h-5zM787 513h4v1h-4zM630 514h4v1h-4zM791 514h3v1h-3zM625 515h5v1h-5zM794 515h3v1h-3zM621 516h4v1h-4zM797 516h4v1h-4zM617 517h4v1h-4zM801 517h3v1h-3zM613 518h4v1h-4zM804 518h3v1h-3zM609 519h4v1h-4zM807 519h4v1h-4zM603 520h6v1h-6zM811 520h5v1h-5zM597 521h6v1h-6zM816 521h5v1h-5zM590 522h7v1h-7zM821 522h5v1h-5zM584 523h6v1h-6zM826 523h5v1h-5zM574 524h10v1h-10zM831 524h5v1h-5zM562 525h12v1h-12zM836 525h5v1h-5zM554 526h8v1h-8zM841 526h5v1h-5zM549 527h5v1h-5zM846 527h5v1h-5zM543 528h6v1h-6zM851 528h5v1h-5zM538 529h5v1h-5zM856 529h5v1h-5zM533 530h5v1h-5zM861 530h4v1h-4zM527 531h6v1h-6zM865 531h4v1h-4zM522 532h5v1h-5zM869 532h5v1h-5zM517 533h5v1h-5zM874 533h4v1h-4zM511 534h6v1h-6zM878 534h4v1h-4zM506 535h5v1h-5zM882 535h4v1h-4zM499 536h7v1h-7zM886 536h5v1h-5zM492 537h7v1h-7zM891 537h5v1h-5zM484 538h8v1h-8zM896 538h4v1h-4zM473 539h11v1h-11zM900 539h5v1h-5zM458 540h15v1h-15zM905 540h4v1h-4zM449 541h9v1h-9zM909 541h4v1h-4zM443 542h6v1h-6zM913 542h4v1h-4zM436 543h7v1h-7zM917 543h4v1h-4zM430 544h6v1h-6zM921 544h3v1h-3zM422 545h8v1h-8zM924 545h4v1h-4zM414 546h8v1h-8zM928 546h3v1h-3zM407 547h7v1h-7zM931 547h4v1h-4zM395 548h12v1h-12zM935 548h2v1h-2zM381 549h14v1h-14zM359 550h22v1h-22zM333 551h26v1h-26zM309 552h24v1h-24zM285 553h24v1h-24zM259 554h26v1h-26zM241 555h18v1h-18zM227 556h14v1h-14zM207 557h20v1h-20zM183 558h24v1h-24zM161 559h22v1h-22zM125 560h36v1h-36zM23 561h102v1h-102z" fill="#000080"/>
<path d="M767 513h30v1h-30zM744 514h23v1h-23zM797 514h19v1h-19zM729 515h15v1h-15zM816 515h15v1h-15zM719 516h10v1h-10zM831 516h9v1h-9zM709 517h10v1h-10zM840 517h8v1h-8zM702 518h7v1h-7zM848 518h7v1h-7zM694 519h8v1h-8zM855 519h7v1h-7zM686 520h8v1h-8zM862 520h8v1h-8zM679 521h7v1h-7zM870 521h8v1h-8zM672 522h7v1h-7zM878 522h7v1h-7zM666 523h6v1h-6zM885 523h7v1h-7zM659 524h7v1h-7zM892 524h7v1h-7zM653 525h6v1h-6zM899 525h6v1h-6zM647 526h6v1h-6zM905 526h7v1h-7zM641 527h6v1h-6zM912 527h6v1h-6zM635 528h6v1h-6zM918 528h6v1h-6zM628 529h7v1h-7zM924 529h6v1h-6zM621 530h7v1h-7zM930 530h6v1h-6zM614 531h7v1h-7zM936 531h1v1h-1zM607 532h7v1h-7zM600 533h7v1h-7zM593 534h7v1h-7zM585 535h8v1h-8zM577 536h8v1h-8zM569 537h8v1h-8zM561 538h8v1h-8zM552 539h9v1h-9zM544 540h8v1h-8zM535 541h9v1h-9zM526 542h9v1h-9zM518 543h8v1h-8zM509 544h9v1h-9zM498 545h11v1h-11zM486 546h12v1h-12zM473 547h13v1h-13zM458 548h15v1h-15zM445 549h13v1h-13zM432 550h13v1h-13zM420 551h12v1h-12zM408 552h12v1h-12zM389 553h19v1h-19zM362 554h27v1h-27zM335 555h27v1h-27zM303 556h32v1h-32zM259 557h44v1h-44zM230 558h29v1h-29zM202 559h28v1h-28zM23 560h179v1h-179z" fill="#ff00ff"/>
</g>
<g id="arrows">
<path d="M48 334h1v1h-1zM49 335h1v1h-1zM50 336h1v1h-1zM51 337h2v1h-2zM53 338h1v1h-1zM54 339h1v1h-1zM55 340h1v1h-1zM56 341h1v1h-1zM57 342h1v1h-1zM58 343h2v1h-2zM60 344h1v1h-1zM61 345h1v1h-1zM62 346h1v1h-1zM63 347h1v1h-1zM64 348h1v1h-1zM65 349h1v1h-1zM66 350h2v1h-2zM68 351h1v1h-1zM69 352h1v1h-1zM70 353h1v1h-1zM71 354h1v1h-1zM72 355h1v1h-1zM73 356h1v1h-1zM74 357h1v1h-1z" fill="#0000ff"/>
<path d="M71 348h1v1h-1zM72 349h1v1h-1zM72 350h1v1h-1zM72 351h1v1h-1zM73 352h1v1h-1zM73 353h1v1h-1zM73 354h1v1h-1zM74 355h1v1h-1zM65 356h10v1h-10zM74 357h1v1h-1z" fill="#0000ff"/>
<path d="M150 323h1v1h-1zM151 324h1v1h-1zM152 325h2v1h-2zM154 326h1v1h-1zM155 327h1v1h-1zM156 328h1v1h-1zM157 329h1v1h-1zM158 330h1v1h-1zM159 331h2v1h-2zM161 332h1v1h-1zM162 333h1v1h-1zM163 334h1v1h-1zM164 335h1v1h-1zM165 336h2v1h-2zM167 337h1v1h-1zM168 338h1v1h-1zM169 339h1v1h-1zM170 340h1v1h-1zM171 341h1v1h-1zM172 342h2v1h-2zM174 343h1v1h-1zM175 344h1v1h-1zM176 345h1v1h-1z" fill="#0000ff"/>
<path d="M173 336h1v1h-1zM173 337h1v1h-1zM173 338h1v1h-1zM174 339h1v1h-1zM174 340h1v1h-1zM174 341h1v1h-1zM175 342h1v1h-1zM175 343h1v1h-1zM175 344h1v1h-1zM166 345h11v1h-11z" fill="#0000ff"/>
<path d="M226 306h3v1h-3zM229 307h3v1h-3zM232 308h4v1h-4zM236 309h3v1h-3zM239 310h3v1h-3zM242 311h3v1h-3zM245 312h3v1h-3zM248 313h3v1h-3zM251 314h4v1h-4zM255 315h3v1h-3zM258 316h3v1h-3zM261 317h3v1h-3zM264 318h3v1h-3zM267 319h4v1h-4zM271 320h3v1h-3zM274 321h3v1h-3zM277 322h1v1h-1z" fill="#0000ff"/>
<path d="M271 315h1v1h-1zM272 316h1v1h-1zM273 317h1v1h-1zM274 318h1v1h-1zM274 319h1v1h-1zM275 320h1v1h-1zM276 321h1v1h-1zM274 322h4v1h-4zM270 323h4v1h-4zM268 324h2v1h-2z" fill="#0000ff"/>
<path d="M378 191h2v1h-2zM380 192h1v1h-1zM381 193h2v1h-2zM383 194h2v1h-2zM385 195h1v1h-1zM386 196h2v1h-2zM388 197h2v1h-2zM390 198h1v1h-1zM391 199h2v1h-2zM393 200h1v1h-1zM394 201h2v1h-2zM396 202h2v1h-2zM398 203h1v1h-1zM399 204h2v1h-2zM401 205h2v1h-2zM403 206h1v1h-1zM404 207h2v1h-2zM406 208h2v1h-2zM408 209h1v1h-1zM409 210h2v1h-2zM411 211h2v1h-2zM413 212h1v1h-1zM414 213h2v1h-2zM416 214h1v1h-1zM417 215h2v1h-2zM419 216h2v1h-2zM421 217h1v1h-1zM422 218h2v1h-2zM424 219h2v1h-2zM426 220h1v1h-1zM427 221h2v1h-2zM429 222h2v1h-2zM431 223h1v1h-1zM432 224h2v1h-2zM434 225h2v1h-2zM436 226h1v1h-1zM437 227h2v1h-2zM439 228h2v1h-2zM441 229h1v1h-1zM442 230h2v1h-2zM444 231h1v1h-1zM445 232h2v1h-2zM447 233h2v1h-2zM449 234h1v1h-1zM450 235h2v1h-2zM452 236h2v1h-2zM454 237h1v1h-1z" fill="#0000ff"/>
<path d="M450 229h1v1h-1zM450 230h1v1h-1zM451 231h1v1h-1zM451 232h1v1h-1zM452 233h1v1h-1zM452 234h1v1h-1zM453 235h1v1h-1zM453 236h1v1h-1zM445 237h10v1h-10z" fill="#0000ff"/>
<path d="M454 163h9v1h-9zM463 164h9v1h-9zM472 165h10v1h-10zM482 166h9v1h-9zM491 167h9v1h-9zM500 168h9v1h-9zM509 169h9v1h-9zM518 170h10v1h-10zM528 171h2v1h-2z" fill="#0000ff"/>
<path d="M522 166h1v1h-1zM523 167h1v1h-1zM524 168h2v1h-2zM526 169h2v1h-2zM528 170h1v1h-1zM528 171h2v1h-2zM526 172h2v1h-2zM524 173h2v1h-2zM523 174h1v1h-1zM521 175h2v1h-2z" fill="#0000ff"/>
<path d="M911 222h1v1h-1zM911 223h1v1h-1zM911 224h1v1h-1zM911 225h1v1h-1zM911 226h1v1h-1zM911 227h1v1h-1zM911 228h1v1h-1zM911 229h1v1h-1zM911 230h1v1h-1zM911 231h1v1h-1zM911 232h1v1h-1zM911 233h1v1h-1zM911 234h1v1h-1zM911 235h1v1h-1zM911 236h1v1h-1zM911 237h1v1h-1zM911 238h1v1h-1zM911 239h1v1h-1zM911 240h1v1h-1zM911 241h1v1h-1z" fill="#0000ff"/>
<path d="M906 234h1v1h-1zM916 234h1v1h-1zM907 235h1v1h-1zM916 235h1v1h-1zM907 236h1v1h-1zM915 236h1v1h-1zM908 237h1v1h-1zM914 237h1v1h-1zM909 238h1v1h-1zM913 238h1v1h-1zM910 239h1v1h-1zM913 239h1v1h-1zM910 240h1v1h-1zM912 240h1v1h-1zM911 241h1v1h-1z" fill="#0000ff"/>
<path d="M936 306h1v1h-1zM935 307h1v1h-1zM934 308h1v1h-1zM934 309h1v1h-1zM933 310h1v1h-1zM932 311h1v1h-1zM931 312h1v1h-1zM931 313h1v1h-1zM930 314h1v1h-1zM929 315h1v1h-1zM928 316h1v1h-1zM928 317h1v1h-1zM927 318h1v1h-1zM926 319h1v1h-1zM925 320h1v1h-1zM925 321h1v1h-1zM924 322h1v1h-1zM923 323h1v1h-1zM922 324h1v1h-1zM922 325h1v1h-1zM921 326h1v1h-1zM920 327h1v1h-1zM919 328h1v1h-1zM918 329h1v1h-1zM918 330h1v1h-1zM917 331h1v1h-1zM916 332h1v1h-1zM915 333h1v1h-1zM915 334h1v1h-1zM914 335h1v1h-1zM913 336h1v1h-1zM912 337h1v1h-1zM912 338h1v1h-1zM911 339h1v1h-1zM911 340h1v1h-1z" fill="#0000ff"/>
<path d="M935 306h2v1h-2zM933 307h2v1h-2zM936 307h1v1h-1zM930 308h3v1h-3zM936 308h1v1h-1zM927 309h3v1h-3zM936 309h1v1h-1zM936 310h1v1h-1zM936 311h1v1h-1zM935 312h1v1h-1zM935 313h1v1h-1zM935 314h1v1h-1zM935 315h1v1h-1z" fill="#0000ff"/>
</g>
<g id="notes">
<g class="t"><text x="123.3 137.3" y="170.4" fill="#0000ff" font-size="14" class="c" filter="url(#pc)">一般</text><text x="155.50 162.50" y="171" fill="#0000ff" font-size="12.5" text-anchor="middle" class="n" filter="url(#px)">30</text><text x="165.3 179.3 193.3 207.3 221.3 235.3 249.3 263.3 277.3 291.3 305.3 319.3 333.3 347.3 361.3" y="170.4" fill="#0000ff" font-size="14" class="c" filter="url(#pc)">分中枢，大致相当于日线笔中枢、</text></g>
<g class="t"><text x="123.3 137.3" y="184.4" fill="#0000ff" font-size="14" class="c" filter="url(#pc)">月线</text><text x="155.50" y="185" fill="#0000ff" font-size="12.5" text-anchor="middle" class="n" filter="url(#px)">3</text><text x="159" y="185" fill="#0000ff" font-size="13" textLength="7" lengthAdjust="spacingAndGlyphs" class="h" filter="url(#px)">k</text><text x="165.3 179.3 193.3 207.3 221.3 235.3 249.3 263.3 277.3 291.3 305.3 319.3" y="184.4" fill="#0000ff" font-size="14" class="c" filter="url(#pc)">重合中枢，对应的是月线的</text><text x="337.50" y="185" fill="#0000ff" font-size="12.5" text-anchor="middle" class="n" filter="url(#px)">5</text><text x="340.3 354.3" y="184.4" fill="#0000ff" font-size="14" class="c" filter="url(#pc)">均线</text></g>
<g class="t"><text x="479.3 493.3 507.3 521.3 535.3 549.3 563.3 577.3 591.3 605.3 619.3 633.3 647.3 661.3 675.3" y="292.9" fill="#0000ff" font-size="14" class="c" filter="url(#pc)">现在就有一个现成有意义的例子，</text><text x="693.50 700.50 707.50 714.50" y="293.5" fill="#0000ff" font-size="12.5" text-anchor="middle" class="n" filter="url(#px)">2008</text><text x="717.3" y="292.9" fill="#0000ff" font-size="14" class="c" filter="url(#pc)">年</text><text x="735.50" y="293.5" fill="#0000ff" font-size="12.5" text-anchor="middle" class="n" filter="url(#px)">8</text><text x="738.3 752.3 766.3" y="292.9" fill="#0000ff" font-size="14" class="c" filter="url(#pc)">月这月</text><text x="781" y="293.5" fill="#0000ff" font-size="13" textLength="7" lengthAdjust="spacingAndGlyphs" class="h" filter="url(#px)">K</text><text x="787.3 801.3 815.3 829.3 843.3 857.3 871.3 885.3" y="292.9" fill="#0000ff" font-size="14" class="c" filter="url(#pc)">线基本走出来了，</text></g>
<g class="t"><text x="479.3 493.3 507.3" y="306.9" fill="#0000ff" font-size="14" class="c" filter="url(#pc)">显然，</text><text x="525.50" y="307.5" fill="#0000ff" font-size="12.5" text-anchor="middle" class="n" filter="url(#px)">9</text><text x="528.3 542.3 556.3 570.3 584.3 598.3 612.3 626.3 640.3 654.3 668.3 682.3 696.3 710.3 724.3 738.3 752.3 766.3 780.3 794.3" y="306.9" fill="#0000ff" font-size="14" class="c" filter="url(#pc)">月是否能构造出底分型，关键是看这个区间（</text><text x="812.50 819.50 826.50 833.50" y="307.5" fill="#0000ff" font-size="12.5" text-anchor="middle" class="n" filter="url(#px)">2284</text><text x="836.3" y="306.9" fill="#0000ff" font-size="14" class="c" filter="url(#pc)">，</text><text x="854.50 861.50 868.50 875.50" y="307.5" fill="#0000ff" font-size="12.5" text-anchor="middle" class="n" filter="url(#px)">2952</text><text x="878.3 892.3" y="306.9" fill="#0000ff" font-size="14" class="c" filter="url(#pc)">），</text></g>
<g class="t"><text x="479.3 493.3" y="320.9" fill="#0000ff" font-size="14" class="c" filter="url(#pc)">其中</text><text x="511.50 518.50 525.50 532.50" y="321.5" fill="#0000ff" font-size="12.5" text-anchor="middle" class="n" filter="url(#px)">2284</text><text x="535.3 549.3 563.3 577.3 591.3 605.3 619.3 633.3 647.3 661.3 675.3 689.3 703.3 717.3 731.3 745.3 759.3 773.3 787.3 801.3 815.3 829.3 843.3 857.3 871.3 885.3" y="320.9" fill="#0000ff" font-size="14" class="c" filter="url(#pc)">点是绝对不能破的，一旦破了，就马上宣告月底分型至少要</text></g>
<g class="t"><text x="479.3" y="334.9" fill="#0000ff" font-size="14" class="c" filter="url(#pc)">到</text><text x="497.50 504.50" y="335.5" fill="#0000ff" font-size="12.5" text-anchor="middle" class="n" filter="url(#px)">10</text><text x="507.3 521.3 535.3 549.3 563.3" y="334.9" fill="#0000ff" font-size="14" class="c" filter="url(#pc)">月后才有戏</text></g>
<g class="t"><text x="888.50 895.50 902.50 909.50 916.50 923.50" y="195" fill="#0000ff" font-size="12.5" text-anchor="middle" class="n" filter="url(#px)">200807</text></g>
<g class="t"><text x="884.3 898.3" y="208.4" fill="#0000ff" font-size="14" class="c" filter="url(#pc)">高点</text><text x="916.50 923.50 930.50 937.50" y="209" fill="#0000ff" font-size="12.5" text-anchor="middle" class="n" filter="url(#px)">2952</text></g>
<g class="t"><text x="888.50 895.50 902.50 909.50 916.50 923.50" y="355" fill="#0000ff" font-size="12.5" text-anchor="middle" class="n" filter="url(#px)">200808</text></g>
<g class="t"><text x="884.3 898.3" y="368.4" fill="#0000ff" font-size="14" class="c" filter="url(#pc)">低点</text><text x="916.50 923.50 930.50 937.50" y="369" fill="#0000ff" font-size="12.5" text-anchor="middle" class="n" filter="url(#px)">2284</text></g>
</g>
<g id="hdr">
<g class="t"><text x="3.5 19.5 35.5 51.5" y="15.2" fill="#000000" font-size="15" class="c" filter="url(#pc)">上证指数</text><text x="67" y="15" font-size="16" class="h"> </text><text x="75" y="15" fill="#000000" font-size="16" textLength="16" lengthAdjust="spacingAndGlyphs" class="h" filter="url(#px)">MA</text><text transform="scale(0.9,1)" x="105.56 114.44 121.67 132.22 141.11 148.33 158.89 167.78 175.00 185.56 194.44 201.67 212.22 221.11 228.33 238.89 247.78 256.67 263.89 274.44 283.33 292.22 299.44 310.00 318.89 327.78 335.00 345.56 354.44" y="15" fill="#000000" font-size="16" text-anchor="middle" class="s" filter="url(#px)">(5,10,20,30,60,120,240,360,2)</text><text x="323" y="15" font-size="16" class="h"> </text></g>
<g class="t"><text x="331" y="15" fill="#000080" font-size="16" textLength="8" lengthAdjust="spacingAndGlyphs" class="h" filter="url(#px)">M</text><text transform="scale(0.9,1)" x="381.11 390.00 398.89 407.78 416.67 425.56 432.78 443.33 452.22 461.11" y="15" fill="#000080" font-size="16" text-anchor="middle" class="s" filter="url(#px)">1:1223.137</text><text x="421.6" y="16" fill="#000080" font-size="17" textLength="10" lengthAdjust="spacingAndGlyphs" class="a" filter="url(#px)">↑</text></g>
<g class="t"><text x="435" y="15" fill="#ff00ff" font-size="16" textLength="8" lengthAdjust="spacingAndGlyphs" class="h" filter="url(#px)">M</text><text transform="scale(0.9,1)" x="496.67 505.56 514.44 523.33 532.22 541.11 548.33 558.89 567.78 576.67" y="15" fill="#ff00ff" font-size="16" text-anchor="middle" class="s" filter="url(#px)">2:1169.089</text><text x="525.6" y="16" fill="#ff00ff" font-size="17" textLength="10" lengthAdjust="spacingAndGlyphs" class="a" filter="url(#px)">↑</text></g>
<clipPath id="cl"><rect x="0" y="0" width="962" height="40"/></clipPath>
<g clip-path="url(#cl)">
<g class="t"><text transform="scale(0.9,1)" x="7.78" y="33" fill="#000000" font-size="16" text-anchor="middle" class="s" filter="url(#px)">1</text><text x="11" y="33" fill="#000000" font-size="16" textLength="8" lengthAdjust="spacingAndGlyphs" class="h" filter="url(#px)">A</text><text transform="scale(0.9,1)" x="25.56 34.44 43.33 52.22" y="33" fill="#000000" font-size="16" text-anchor="middle" class="s" filter="url(#px)">0001</text><text x="51" y="33" font-size="16" class="h"> </text><text transform="scale(0.9,1)" x="70.00 78.89 87.78 96.67 105.56 114.44 123.33 132.22 141.11 150.00" y="33" fill="#000000" font-size="16" text-anchor="middle" class="s" filter="url(#px)">2006/03/31</text><text x="139" y="33" font-size="16" class="h"> </text></g>
<g class="t"><text x="147.5" y="33.2" fill="#ff0000" font-size="15" class="c" filter="url(#pc)">开</text><text transform="scale(0.9,1)" x="185.56 194.44 203.33 212.22 219.44 230.00 238.89" y="33" fill="#ff0000" font-size="16" text-anchor="middle" class="s" filter="url(#px)">1299.15</text><text x="221.6" y="34" fill="#ff0000" font-size="17" textLength="10" lengthAdjust="spacingAndGlyphs" class="a" filter="url(#px)">↑</text><text x="235.5" y="33.2" fill="#ff0000" font-size="15" class="c" filter="url(#pc)">高</text><text transform="scale(0.9,1)" x="283.33 292.22 301.11 310.00 317.22 327.78 336.67" y="33" fill="#ff0000" font-size="16" text-anchor="middle" class="s" filter="url(#px)">1313.13</text><text x="309.6" y="34" fill="#ff0000" font-size="17" textLength="10" lengthAdjust="spacingAndGlyphs" class="a" filter="url(#px)">↑</text></g>
<g class="t"><text x="323.5" y="33.2" fill="#008000" font-size="15" class="c" filter="url(#pc)">低</text><text transform="scale(0.9,1)" x="381.11 390.00 398.89 407.78 415.00 425.56 434.44" y="33" fill="#008000" font-size="16" text-anchor="middle" class="s" filter="url(#px)">1238.16</text><text x="397.6" y="34" fill="#008000" font-size="17" textLength="10" lengthAdjust="spacingAndGlyphs" class="a" filter="url(#px)">↓</text><text x="411.5" y="33.2" fill="#008000" font-size="15" class="c" filter="url(#pc)">收</text><text transform="scale(0.9,1)" x="478.89 487.78 496.67 505.56 512.78 523.33 532.22" y="33" fill="#008000" font-size="16" text-anchor="middle" class="s" filter="url(#px)">1298.30</text><text x="485.6" y="34" fill="#008000" font-size="17" textLength="10" lengthAdjust="spacingAndGlyphs" class="a" filter="url(#px)">↓</text></g>
<g class="t"><text x="499.5" y="33.2" fill="#000000" font-size="15" class="c" filter="url(#pc)">量</text><text transform="scale(0.9,1)" x="576.67 585.56 594.44 603.33 612.22 621.11 630.00 638.89 647.78" y="33" fill="#000000" font-size="16" text-anchor="middle" class="s" filter="url(#px)">567038848</text><text x="589.6" y="34" fill="#000000" font-size="17" textLength="10" lengthAdjust="spacingAndGlyphs" class="a" filter="url(#px)">↑</text><text x="603.5" y="33.2" fill="#000000" font-size="15" class="c" filter="url(#pc)">额</text><text transform="scale(0.9,1)" x="692.22 701.11 710.00 718.89 727.78 736.67 745.56 754.44" y="33" fill="#000000" font-size="16" text-anchor="middle" class="s" filter="url(#px)">25448440</text><text x="685.6" y="34" fill="#000000" font-size="17" textLength="10" lengthAdjust="spacingAndGlyphs" class="a" filter="url(#px)">↑</text><text x="699.5" y="33.2" fill="#000000" font-size="15" class="c" filter="url(#pc)">换</text><text transform="scale(0.9,1)" x="798.89 806.11 816.67 825.56" y="33" fill="#000000" font-size="16" text-anchor="middle" class="s" filter="url(#px)">0.00</text><text x="747" y="33" fill="#000000" font-size="16" textLength="8" lengthAdjust="spacingAndGlyphs" class="h" filter="url(#px)">%</text><text x="755" y="33" font-size="16" class="h"> </text><text x="763.5" y="33.2" fill="#000000" font-size="15" class="c" filter="url(#pc)">振</text><text transform="scale(0.9,1)" x="870.00 877.22 887.78 896.67" y="33" fill="#000000" font-size="16" text-anchor="middle" class="s" filter="url(#px)">5.77</text><text x="811" y="33" fill="#000000" font-size="16" textLength="8" lengthAdjust="spacingAndGlyphs" class="h" filter="url(#px)">%</text><text x="819" y="33" font-size="16" class="h"> </text></g>
<g class="t"><text x="827.5" y="33.2" fill="#008000" font-size="15" class="c" filter="url(#pc)">涨</text><text transform="scale(0.9,1)" x="941.11 950.00 958.89 966.11 976.67 985.56 994.44 1003.33 1012.22 1019.44 1030.00 1038.89" y="33" fill="#008000" font-size="16" text-anchor="middle" class="s" filter="url(#px)">(-0.73)-0.06</text><text x="939" y="33" fill="#008000" font-size="16" textLength="8" lengthAdjust="spacingAndGlyphs" class="h" filter="url(#px)">%</text><text x="947" y="33" font-size="16" class="h"> </text><text x="955.5" y="33.2" fill="#008000" font-size="15" class="c" filter="url(#pc)">换</text></g>
</g>
</g>
<g class="t"><text x="3" y="421" fill="#000000" font-size="16" textLength="24" lengthAdjust="spacingAndGlyphs" class="h" filter="url(#px)">VOL</text><text transform="scale(0.9,1)" x="34.44 43.33 50.56 61.11 70.00 77.22 87.78 96.67 105.56" y="421" fill="#000000" font-size="16" text-anchor="middle" class="s" filter="url(#px)">(5,10,20)</text><text x="99" y="421" font-size="16" class="h"> </text></g>
<g class="t"><text transform="scale(0.9,1)" x="123.33 132.22 141.11 150.00 158.89 167.78 176.67 185.56 194.44" y="421" fill="#000080" font-size="16" text-anchor="middle" class="s" filter="url(#px)">567038848</text><text x="181.6" y="422" fill="#000080" font-size="17" textLength="10" lengthAdjust="spacingAndGlyphs" class="a" filter="url(#px)">↑</text></g>
<g class="t"><text x="195" y="421" fill="#ff00ff" font-size="16" textLength="16" lengthAdjust="spacingAndGlyphs" class="h" filter="url(#px)">MA</text><text transform="scale(0.9,1)" x="238.89 247.78 256.67 265.56 274.44 283.33 292.22 301.11 310.00 318.89 327.78" y="421" fill="#ff00ff" font-size="16" text-anchor="middle" class="s" filter="url(#px)">1:480982016</text><text x="301.6" y="422" fill="#ff00ff" font-size="17" textLength="10" lengthAdjust="spacingAndGlyphs" class="a" filter="url(#px)">↑</text></g>
<g class="t"><text x="315" y="421" fill="#808080" font-size="16" textLength="16" lengthAdjust="spacingAndGlyphs" class="h" filter="url(#px)">MA</text><text transform="scale(0.9,1)" x="372.22 381.11 390.00 398.89 407.78 416.67 425.56 434.44 443.33 452.22 461.11" y="421" fill="#808080" font-size="16" text-anchor="middle" class="s" filter="url(#px)">2:494089888</text><text x="421.6" y="422" fill="#808080" font-size="17" textLength="10" lengthAdjust="spacingAndGlyphs" class="a" filter="url(#px)">↑</text></g>
<g class="t"><text x="435" y="421" fill="#800000" font-size="16" textLength="16" lengthAdjust="spacingAndGlyphs" class="h" filter="url(#px)">MA</text><text transform="scale(0.9,1)" x="505.56 514.44 523.33 532.22 541.11 550.00 558.89 567.78 576.67 585.56 594.44" y="421" fill="#800000" font-size="16" text-anchor="middle" class="s" filter="url(#px)">3:391555136</text><text x="541.6" y="422" fill="#800000" font-size="17" textLength="10" lengthAdjust="spacingAndGlyphs" class="a" filter="url(#px)">↑</text></g>
<g class="t"><text x="3" y="499" fill="#000000" font-size="16" textLength="32" lengthAdjust="spacingAndGlyphs" class="h" filter="url(#px)">MACD</text><text transform="scale(0.9,1)" x="43.33 52.22 61.11 68.33 78.89 87.78 95.00 105.56 114.44" y="499" fill="#000000" font-size="16" text-anchor="middle" class="s" filter="url(#px)">(26,12,9)</text><text x="107" y="499" font-size="16" class="h"> </text></g>
<g class="t"><text x="115" y="499" fill="#000080" font-size="16" textLength="32" lengthAdjust="spacingAndGlyphs" class="h" filter="url(#px)">DIFF</text><text transform="scale(0.9,1)" x="167.78 176.67 185.56 194.44 201.67 212.22 221.11 230.00" y="499" fill="#000080" font-size="16" text-anchor="middle" class="s" filter="url(#px)">:-58.378</text><text x="213.6" y="500" fill="#000080" font-size="17" textLength="10" lengthAdjust="spacingAndGlyphs" class="a" filter="url(#px)">↑</text></g>
<g class="t"><text x="227" y="499" fill="#ff00ff" font-size="16" textLength="24" lengthAdjust="spacingAndGlyphs" class="h" filter="url(#px)">DEA</text><text transform="scale(0.9,1)" x="283.33 292.22 301.11 310.00 317.22 327.78 336.67 345.56" y="499" fill="#ff00ff" font-size="16" text-anchor="middle" class="s" filter="url(#px)">:-87.048</text><text x="317.6" y="500" fill="#ff00ff" font-size="17" textLength="10" lengthAdjust="spacingAndGlyphs" class="a" filter="url(#px)">↑</text></g>
<g class="t"><text x="331" y="499" fill="#808080" font-size="16" textLength="32" lengthAdjust="spacingAndGlyphs" class="h" filter="url(#px)">MACD</text><text transform="scale(0.9,1)" x="407.78 416.67 425.56 432.78 443.33 452.22 461.11" y="499" fill="#808080" font-size="16" text-anchor="middle" class="s" filter="url(#px)">:57.341</text><text x="421.6" y="500" fill="#808080" font-size="17" textLength="10" lengthAdjust="spacingAndGlyphs" class="a" filter="url(#px)">↑</text></g>
<g class="t"><text transform="scale(0.9,1)" x="32.22 41.11 50.00 58.89" y="403" fill="#808080" font-size="16" text-anchor="middle" class="s" filter="url(#px)">2005</text></g>
<g class="t"><text transform="scale(0.9,1)" x="173.33 182.22 191.11 200.00" y="403" fill="#808080" font-size="16" text-anchor="middle" class="s" filter="url(#px)">2006</text></g>
<g class="t"><text transform="scale(0.9,1)" x="511.11 520.00 528.89 537.78" y="403" fill="#808080" font-size="16" text-anchor="middle" class="s" filter="url(#px)">2007</text></g>
<g class="t"><text transform="scale(0.9,1)" x="848.89 857.78 866.67 875.56" y="403" fill="#808080" font-size="16" text-anchor="middle" class="s" filter="url(#px)">2008</text></g>
<g class="t"><text x="974.5 990.5" y="404.2" fill="#808080" font-size="15" class="c" filter="url(#pc)">月线</text></g>
<g id="axis">
<g class="t"><text transform="scale(0.9,1)" x="1098.89 1107.78 1116.67" y="57" fill="#808080" font-size="16" text-anchor="middle" class="s" filter="url(#px)">450</text><text x="1009" y="57" fill="#808080" font-size="16" textLength="8" lengthAdjust="spacingAndGlyphs" class="h" filter="url(#px)">%</text></g>
<g class="t"><text transform="scale(0.9,1)" x="1098.89 1107.78 1116.67" y="93" fill="#808080" font-size="16" text-anchor="middle" class="s" filter="url(#px)">400</text><text x="1009" y="93" fill="#808080" font-size="16" textLength="8" lengthAdjust="spacingAndGlyphs" class="h" filter="url(#px)">%</text></g>
<g class="t"><text transform="scale(0.9,1)" x="1098.89 1107.78 1116.67" y="128" fill="#808080" font-size="16" text-anchor="middle" class="s" filter="url(#px)">350</text><text x="1009" y="128" fill="#808080" font-size="16" textLength="8" lengthAdjust="spacingAndGlyphs" class="h" filter="url(#px)">%</text></g>
<g class="t"><text transform="scale(0.9,1)" x="1098.89 1107.78 1116.67" y="164" fill="#808080" font-size="16" text-anchor="middle" class="s" filter="url(#px)">300</text><text x="1009" y="164" fill="#808080" font-size="16" textLength="8" lengthAdjust="spacingAndGlyphs" class="h" filter="url(#px)">%</text></g>
<g class="t"><text transform="scale(0.9,1)" x="1098.89 1107.78 1116.67" y="199" fill="#808080" font-size="16" text-anchor="middle" class="s" filter="url(#px)">250</text><text x="1009" y="199" fill="#808080" font-size="16" textLength="8" lengthAdjust="spacingAndGlyphs" class="h" filter="url(#px)">%</text></g>
<g class="t"><text transform="scale(0.9,1)" x="1098.89 1107.78 1116.67" y="235" fill="#808080" font-size="16" text-anchor="middle" class="s" filter="url(#px)">200</text><text x="1009" y="235" fill="#808080" font-size="16" textLength="8" lengthAdjust="spacingAndGlyphs" class="h" filter="url(#px)">%</text></g>
<g class="t"><text transform="scale(0.9,1)" x="1098.89 1107.78 1116.67" y="270" fill="#808080" font-size="16" text-anchor="middle" class="s" filter="url(#px)">150</text><text x="1009" y="270" fill="#808080" font-size="16" textLength="8" lengthAdjust="spacingAndGlyphs" class="h" filter="url(#px)">%</text></g>
<g class="t"><text transform="scale(0.9,1)" x="1098.89 1107.78 1116.67" y="306" fill="#808080" font-size="16" text-anchor="middle" class="s" filter="url(#px)">100</text><text x="1009" y="306" fill="#808080" font-size="16" textLength="8" lengthAdjust="spacingAndGlyphs" class="h" filter="url(#px)">%</text></g>
<g class="t"><text transform="scale(0.9,1)" x="1107.78 1116.67" y="341" fill="#808080" font-size="16" text-anchor="middle" class="s" filter="url(#px)">50</text><text x="1009" y="341" fill="#808080" font-size="16" textLength="8" lengthAdjust="spacingAndGlyphs" class="h" filter="url(#px)">%</text></g>
<g class="t"><text transform="scale(0.9,1)" x="1116.67" y="377" fill="#808080" font-size="16" text-anchor="middle" class="s" filter="url(#px)">0</text><text x="1009" y="377" fill="#808080" font-size="16" textLength="8" lengthAdjust="spacingAndGlyphs" class="h" filter="url(#px)">%</text></g>
<g class="t"><text transform="scale(0.9,1)" x="1081.11 1090.00 1098.89 1107.78 1115.00 1125.56" y="74" fill="#808080" font-size="16" text-anchor="middle" class="s" filter="url(#px)">5955.4</text></g>
<g class="t"><text transform="scale(0.9,1)" x="1081.11 1090.00 1098.89 1107.78 1115.00 1125.56" y="110" fill="#808080" font-size="16" text-anchor="middle" class="s" filter="url(#px)">5414.0</text></g>
<g class="t"><text transform="scale(0.9,1)" x="1081.11 1090.00 1098.89 1107.78 1115.00 1125.56" y="145" fill="#808080" font-size="16" text-anchor="middle" class="s" filter="url(#px)">4872.6</text></g>
<g class="t"><text transform="scale(0.9,1)" x="1081.11 1090.00 1098.89 1107.78 1115.00 1125.56" y="181" fill="#808080" font-size="16" text-anchor="middle" class="s" filter="url(#px)">4331.2</text></g>
<g class="t"><text transform="scale(0.9,1)" x="1081.11 1090.00 1098.89 1107.78 1115.00 1125.56" y="216" fill="#808080" font-size="16" text-anchor="middle" class="s" filter="url(#px)">3789.8</text></g>
<g class="t"><text transform="scale(0.9,1)" x="1081.11 1090.00 1098.89 1107.78 1115.00 1125.56" y="252" fill="#808080" font-size="16" text-anchor="middle" class="s" filter="url(#px)">3248.4</text></g>
<g class="t"><text transform="scale(0.9,1)" x="1081.11 1090.00 1098.89 1107.78 1115.00 1125.56" y="287" fill="#808080" font-size="16" text-anchor="middle" class="s" filter="url(#px)">2707.0</text></g>
<g class="t"><text transform="scale(0.9,1)" x="1081.11 1090.00 1098.89 1107.78 1115.00 1125.56" y="323" fill="#808080" font-size="16" text-anchor="middle" class="s" filter="url(#px)">2165.6</text></g>
<g class="t"><text transform="scale(0.9,1)" x="1081.11 1090.00 1098.89 1107.78 1115.00 1125.56" y="358" fill="#808080" font-size="16" text-anchor="middle" class="s" filter="url(#px)">1624.2</text></g>
<polygon points="964,226 970,218 1018,218 1018,234 970,234" fill="#fffaf0"/>
<g class="t"><text transform="scale(0.9,1)" x="1081.11 1090.00 1098.89 1107.78 1115.00 1125.56" y="232" fill="#ff0000" font-size="16" text-anchor="middle" class="s" filter="url(#px)">3308.3</text></g>
<g class="t"><text transform="scale(0.9,1)" x="1081.11 1090.00 1098.89 1107.78 1116.67 1125.56" y="448" fill="#808080" font-size="16" text-anchor="middle" class="s" filter="url(#px)">200000</text></g>
<g class="t"><text transform="scale(0.9,1)" x="1125.56" y="478" fill="#808080" font-size="16" text-anchor="middle" class="s" filter="url(#px)">0</text></g>
<rect x="964.5" y="465.5" width="34" height="17" fill="#fff" stroke="#808080" stroke-width="1"/>
<g class="t"><text x="966" y="479.5" fill="#808080" font-size="16" textLength="8" lengthAdjust="spacingAndGlyphs" class="h" filter="url(#px)">X</text><text transform="scale(0.9,1)" x="1086.67" y="479.5" fill="#808080" font-size="16" text-anchor="middle" class="s" filter="url(#px)">1</text><text x="982.5" y="479.7" fill="#808080" font-size="15" class="c" filter="url(#pc)">万</text></g>
<g class="t"><text transform="scale(0.9,1)" x="1081.11 1090.00 1098.89 1107.78 1115.00 1125.56" y="510" fill="#808080" font-size="16" text-anchor="middle" class="s" filter="url(#px)">1000.0</text></g>
<g class="t"><text transform="scale(0.9,1)" x="1090.00 1098.89 1107.78 1115.00 1125.56" y="535" fill="#808080" font-size="16" text-anchor="middle" class="s" filter="url(#px)">500.0</text></g>
<g class="t"><text transform="scale(0.9,1)" x="1107.78 1115.00 1125.56" y="560" fill="#808080" font-size="16" text-anchor="middle" class="s" filter="url(#px)">0.0</text></g>
<g class="t"><text transform="scale(0.9,1)" x="1081.11 1090.00 1098.89 1107.78 1115.00 1125.56" y="585" fill="#808080" font-size="16" text-anchor="middle" class="s" filter="url(#px)">-500.0</text></g>
</g>
<rect x="991.5" y="1.5" width="12" height="10" fill="#fff" stroke="#808080" stroke-width="1"/>
<rect x="991" y="6" width="9" height="1" fill="#808080"/>
<rect x="999" y="1" width="1" height="11" fill="#808080"/>
<g class="t"><text x="0.5 16.5 32.5 48.5 64.5" y="598.2" fill="#000000" font-size="15" class="c" filter="url(#pc)">飞狐交易师</text></g>
</svg>
</body></html>
